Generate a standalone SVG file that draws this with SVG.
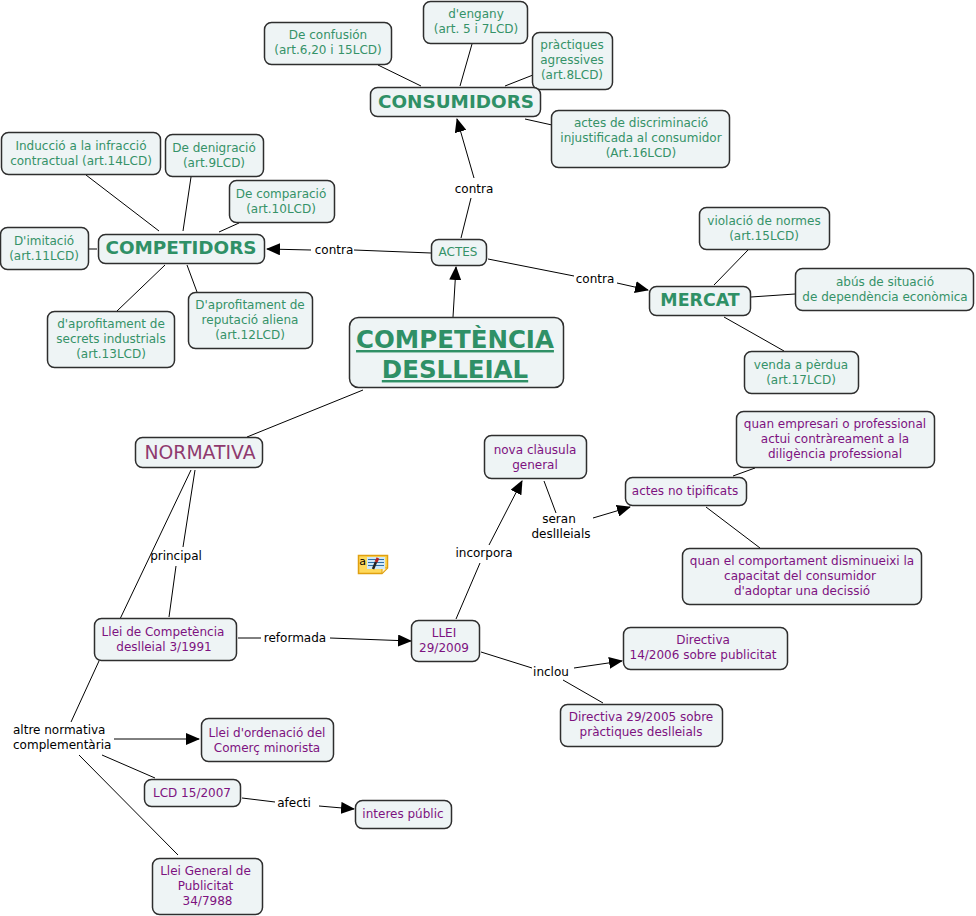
<svg xmlns="http://www.w3.org/2000/svg" width="976" height="916" viewBox="0 0 976 916">
<style>
text{font-family:"DejaVu Sans",Verdana,sans-serif;font-size:12px;text-anchor:middle}
.b{fill:#eef4f5;stroke:#2e2e2e;stroke-width:1.5}
.g{fill:#359268}.p{fill:#7d1280}.k{fill:#000}
.h{font-weight:bold;font-size:18.400px;fill:#2f9066}
.c line{stroke:#000;stroke-width:1}
</style>
<defs><marker id="a" markerUnits="userSpaceOnUse" markerWidth="14" markerHeight="12" refX="13" refY="6" orient="auto"><path d="M0 0L14 6L0 12z" fill="#000"/></marker></defs>
<rect width="976" height="916" fill="#fff"/>
<g class="c">
<line x1="378" y1="65" x2="421" y2="86"/><line x1="472" y1="44" x2="460" y2="86"/><line x1="533" y1="75" x2="505" y2="86"/><line x1="525" y1="119" x2="552" y2="125"/>
<line x1="86" y1="175" x2="159" y2="231"/><line x1="191" y1="177" x2="183" y2="231"/><line x1="239" y1="223" x2="219" y2="232"/><line x1="89" y1="249" x2="97" y2="249"/><line x1="165" y1="265" x2="117" y2="311"/><line x1="187" y1="265" x2="197" y2="292"/>
<line x1="461" y1="238" x2="471" y2="198"/><line x1="474" y1="178" x2="457" y2="119" marker-end="url(#a)"/>
<line x1="431" y1="253" x2="354" y2="250"/><line x1="311" y1="250" x2="267" y2="249" marker-end="url(#a)"/>
<line x1="488" y1="259" x2="574" y2="276"/><line x1="617" y1="283" x2="648" y2="290" marker-end="url(#a)"/>
<line x1="453" y1="317" x2="456" y2="267" marker-end="url(#a)"/>
<line x1="748" y1="250" x2="714" y2="285"/><line x1="751" y1="297" x2="795" y2="294"/><line x1="724" y1="317" x2="784" y2="351"/>
<line x1="363" y1="390" x2="247" y2="437"/>
<line x1="191" y1="470" x2="120" y2="619"/><line x1="195" y1="470" x2="183" y2="547"/><line x1="176" y1="566" x2="169" y2="617"/>
<line x1="238" y1="638" x2="261" y2="638"/><line x1="330" y1="638" x2="411" y2="641" marker-end="url(#a)"/>
<line x1="99" y1="661" x2="71" y2="722"/><line x1="114" y1="739" x2="199" y2="739" marker-end="url(#a)"/><line x1="102" y1="755" x2="155" y2="778"/><line x1="79" y1="755" x2="178" y2="855"/>
<line x1="242" y1="798" x2="275" y2="802"/><line x1="319" y1="806" x2="354" y2="809" marker-end="url(#a)"/>
<line x1="456" y1="619" x2="480" y2="563"/><line x1="489" y1="545" x2="522" y2="481" marker-end="url(#a)"/>
<line x1="544" y1="481" x2="556" y2="513"/><line x1="593" y1="518" x2="630" y2="507" marker-end="url(#a)"/>
<line x1="733" y1="476" x2="755" y2="468"/><line x1="706" y1="507" x2="760" y2="548"/>
<line x1="481" y1="652" x2="532" y2="668"/><line x1="574" y1="668" x2="622" y2="661" marker-end="url(#a)"/><line x1="563" y1="680" x2="603" y2="703"/>
</g>
<g id="n1"><rect class="b" x="264.500" y="22.500" width="127" height="42" rx="7"/><text class="g" x="328" y="39">De confusión</text><text class="g" x="328" y="54">(art.6,20 i 15LCD)</text></g>
<g id="n2"><rect class="b" x="423.500" y="1.500" width="104" height="42" rx="7"/><text class="g" x="476" y="18">d'engany</text><text class="g" x="476" y="33">(art. 5 i 7LCD)</text></g>
<g id="n3"><rect class="b" x="532.500" y="32.500" width="80" height="57" rx="7"/><text class="g" x="572" y="49">pràctiques</text><text class="g" x="572" y="64">agressives</text><text class="g" x="572" y="79">(art.8LCD)</text></g>
<g id="n4"><rect class="b" x="370.500" y="87.500" width="170" height="29" rx="7"/><text class="h" x="456" y="108">CONSUMIDORS</text></g>
<g id="n5"><rect class="b" x="551.500" y="110.500" width="178" height="57" rx="7"/><text class="g" x="641" y="127">actes de discriminació</text><text class="g" x="641" y="142">injustificada al consumidor</text><text class="g" x="641" y="157">(Art.16LCD)</text></g>
<g id="n6"><rect class="b" x="1.500" y="132.500" width="159" height="42" rx="7"/><text class="g" x="81" y="150">Inducció a la infracció</text><text class="g" x="81" y="165">contractual (art.14LCD)</text></g>
<g id="n7"><rect class="b" x="165.500" y="134.500" width="98" height="42" rx="7"/><text class="g" x="214" y="152">De denigració</text><text class="g" x="214" y="167">(art.9LCD)</text></g>
<g id="n8"><rect class="b" x="229.500" y="180.500" width="105" height="42" rx="7"/><text class="g" x="281" y="198">De comparació</text><text class="g" x="281" y="213">(art.10LCD)</text></g>
<g id="n9"><rect class="b" x="0.500" y="227.500" width="88" height="42" rx="7"/><text class="g" x="44" y="245">D'imitació</text><text class="g" x="44" y="260">(art.11LCD)</text></g>
<g id="n10"><rect class="b" x="98.500" y="234.500" width="166" height="29" rx="7"/><text class="h" x="181" y="254">COMPETIDORS</text></g>
<g id="n11"><rect class="b" x="431.500" y="239.500" width="55" height="26" rx="7"/><text class="g" x="458" y="256">ACTES</text></g>
<g id="n12"><rect class="b" x="47.500" y="311.500" width="127" height="56" rx="7"/><text class="g" x="111" y="328">d'aprofitament de</text><text class="g" x="111" y="343">secrets industrials</text><text class="g" x="111" y="358">(art.13LCD)</text></g>
<g id="n13"><rect class="b" x="188.500" y="292.500" width="124" height="56" rx="7"/><text class="g" x="250" y="309">D'aprofitament de</text><text class="g" x="250" y="324">reputació aliena</text><text class="g" x="250" y="339">(art.12LCD)</text></g>
<g id="n14"><rect class="b" x="349.500" y="317.500" width="214" height="70" rx="9"/><text x="455" y="348" style="font-size:24.500px;font-weight:bold;fill:#2f9066;text-decoration:underline">COMPETÈNCIA</text><text x="455" y="378" style="font-size:24.500px;font-weight:bold;fill:#2f9066;text-decoration:underline">DESLLEIAL</text></g>
<g id="n15"><rect class="b" x="699.500" y="207.500" width="130" height="42" rx="7"/><text class="g" x="764" y="225">violació de normes</text><text class="g" x="764" y="240">(art.15LCD)</text></g>
<g id="n16"><rect class="b" x="795.500" y="268.500" width="178" height="42" rx="7"/><text class="g" x="885" y="286">abús de situació</text><text class="g" x="885" y="301">de dependència econòmica</text></g>
<g id="n17"><rect class="b" x="649.500" y="286.500" width="101" height="29" rx="7"/><text class="h" x="700" y="306" style="font-size:17.400px">MERCAT</text></g>
<g id="n18"><rect class="b" x="744.500" y="351.500" width="114" height="42" rx="7"/><text class="g" x="801" y="369">venda a pèrdua</text><text class="g" x="801" y="384">(art.17LCD)</text></g>
<g id="n19"><rect class="b" x="135.500" y="437.500" width="127" height="30" rx="7"/><text x="200" y="459" style="font-size:18.800px;fill:#8f3a6e">NORMATIVA</text></g>
<g id="n20"><rect class="b" x="484.500" y="435.500" width="102" height="43" rx="7"/><text class="p" x="535" y="454">nova clàusula</text><text class="p" x="535" y="469">general</text></g>
<g id="n21"><rect class="b" x="736.500" y="411.500" width="198" height="56" rx="7"/><text class="p" x="835" y="428">quan empresari o professional</text><text class="p" x="835" y="443">actui contràreament a la</text><text class="p" x="835" y="458">diligència professional</text></g>
<g id="n22"><rect class="b" x="625.500" y="477.500" width="121" height="28" rx="7"/><text class="p" x="685" y="495">actes no tipificats</text></g>
<g id="n23"><rect class="b" x="682.500" y="548.500" width="239" height="56" rx="7"/><text class="p" x="802" y="565">quan el comportament disminueixi la</text><text class="p" x="800" y="580">capacitat del consumidor</text><text class="p" x="802" y="595">d'adoptar una decissió</text></g>
<g id="n24"><rect class="b" x="94.500" y="618.500" width="142" height="42" rx="7"/><text class="p" x="163" y="636">Llei de Competència</text><text class="p" x="164" y="651">deslleial 3/1991</text></g>
<g id="n25"><rect class="b" x="411.500" y="620.500" width="68" height="41" rx="7"/><text class="p" x="444" y="637">LLEI</text><text class="p" x="444" y="652">29/2009</text></g>
<g id="n26"><rect class="b" x="623.500" y="627.500" width="164" height="42" rx="7"/><text class="p" x="703" y="644">Directiva</text><text class="p" x="703" y="659">14/2006 sobre publicitat</text></g>
<g id="n27"><rect class="b" x="560.500" y="704.500" width="162" height="42" rx="7"/><text class="p" x="641" y="721">Directiva 29/2005 sobre</text><text class="p" x="641" y="736">pràctiques deslleials</text></g>
<g id="n28"><rect class="b" x="201.500" y="718.500" width="132" height="43" rx="7"/><text class="p" x="267" y="737">Llei d'ordenació del</text><text class="p" x="267" y="752">Comerç minorista</text></g>
<g id="n29"><rect class="b" x="144.500" y="779.500" width="96" height="27" rx="7"/><text class="p" x="192" y="797">LCD 15/2007</text></g>
<g id="n30"><rect class="b" x="355.500" y="800.500" width="96" height="28" rx="7"/><text class="p" x="403" y="818">interes públic</text></g>
<g id="n31"><rect class="b" x="152.500" y="858.500" width="110" height="56" rx="7"/><text class="p" x="205.500" y="875">Llei General de</text><text class="p" x="205.500" y="890">Publicitat</text><text class="p" x="207.500" y="905">34/7988</text></g>
<g id="labels">
<text class="k" x="474" y="193">contra</text><text class="k" x="334" y="254">contra</text><text class="k" x="595" y="283">contra</text>
<text class="k" x="176" y="560">principal</text><text class="k" x="295" y="642">reformada</text><text class="k" x="484" y="557">incorpora</text>
<text class="k" x="551" y="676">inclou</text><text class="k" x="294" y="807">afecti</text>
<text class="k" x="559" y="523">seran</text><text class="k" x="561" y="538">deslIleials</text>
<text class="k" x="13" y="734" style="text-anchor:start">altre normativa</text><text class="k" x="13" y="749" style="text-anchor:start">complementària</text>
</g>
<g id="icon">
<path d="M358.500 555.500H387.500V568L382 573.500H358.500z" fill="#ffd95a" stroke="#e0a010" stroke-width="1.500"/>
<path d="M382 573.500V568H387.500z" fill="#fff3c0" stroke="#e0a010"/>
<rect x="367" y="557" width="18" height="12" fill="#cfe8f8"/>
<path d="M368 559.500h16M368 562.500h16M368 565.500h16" stroke="#2f6fa8"/>
<path d="M373 569l3-7" stroke="#222" stroke-width="2.500"/>
<path d="M376 562l2-4" stroke="#b32222" stroke-width="3"/>
<text x="362.500" y="565" style="font-size:11px;fill:#000">a</text>
</g>
</svg>
